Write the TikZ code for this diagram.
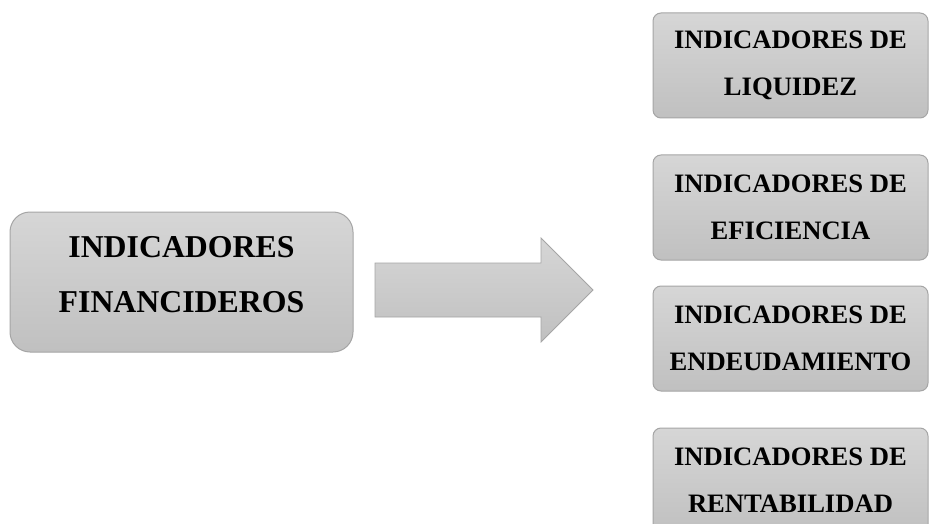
\documentclass[tikz,border=0pt]{standalone}
\usepackage{fontspec}
\setmainfont{Liberation Serif}
\usetikzlibrary{positioning}
\definecolor{boxtop}{RGB}{214,214,214}
\definecolor{boxbot}{RGB}{192,192,192}
\definecolor{boxline}{RGB}{165,165,165}
\tikzset{
  shade box/.style={draw=boxline, line width=1pt, top color=boxtop, bottom color=boxbot},
  mainbox/.style={shade box, rounded corners=20pt, minimum width=343pt, minimum height=140pt},
  maintext/.style={align=center, font=\fontsize{31.8}{55}\selectfont\bfseries},
  kindbox/.style={shade box, rounded corners=8pt, minimum width=275pt, minimum height=105pt,
    inner sep=0pt, align=center, font=\fontsize{26.6}{47}\selectfont\bfseries},
}

\begin{document}
\begin{tikzpicture}[x=1pt, y=1pt]
\path[use as bounding box, clip] (0,0) rectangle (929,-524);
% main box
\node[mainbox] (fin) at (181.5,-282) {};
\node[maintext] (fintext) at ([yshift=7pt]fin.center) {INDICADORES\\FINANCIDEROS};
% big arrow
\draw[shade box, line width=0.8pt] (375,-263) -- (541,-263) -- (541,-238) -- (593,-290)
  -- (541,-342) -- (541,-317) -- (375,-317) -- cycle;
% indicator boxes
\node[kindbox] (liq) at (790.5,-65.5) {INDICADORES DE\\LIQUIDEZ};
\node[kindbox, below=36pt of liq] (efi) {INDICADORES DE\\EFICIENCIA};
\node[kindbox, below=25pt of efi] (end) {INDICADORES DE\\ENDEUDAMIENTO};
\node[kindbox, below=36pt of end] (ren) {INDICADORES DE\\RENTABILIDAD};
\end{tikzpicture}
\end{document}
